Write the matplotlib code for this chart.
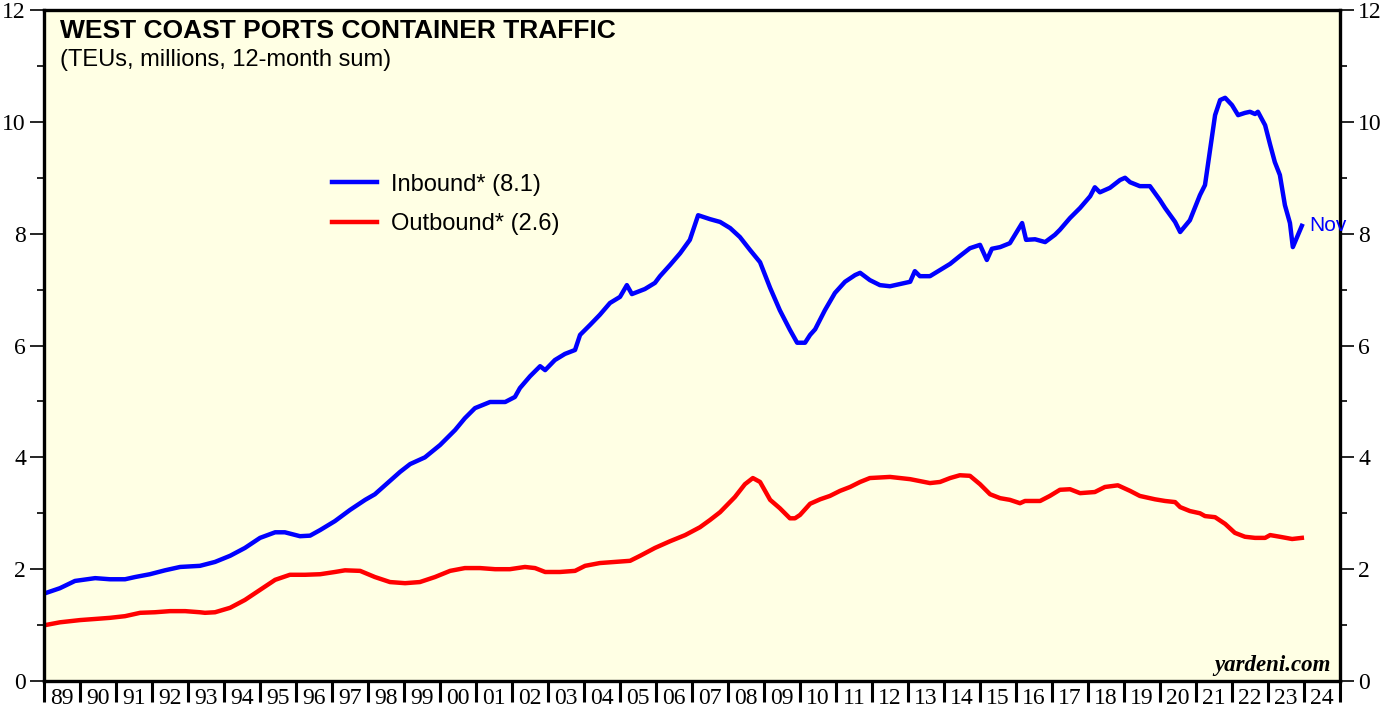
import numpy as np
import matplotlib.pyplot as plt
from matplotlib.ticker import FixedLocator, NullFormatter

# inbound (decimal year, TEU millions)
inbound_t = [1989.03, 1989.44, 1989.86, 1990.42, 1990.83, 1991.25, 1991.53, 1991.94, 1992.36, 1992.78,
             1993.33, 1993.75, 1994.17, 1994.58, 1995.0, 1995.42, 1995.69, 1996.11, 1996.39, 1996.67,
             1997.08, 1997.5, 1997.92, 1998.19, 1998.47, 1998.89, 1999.17, 1999.58, 2000.0, 2000.42,
             2000.69, 2000.97, 2001.39, 2001.81, 2002.08, 2002.22, 2002.5, 2002.78, 2002.92, 2003.19,
             2003.47, 2003.75, 2003.89, 2004.17, 2004.44, 2004.72, 2005.0, 2005.19, 2005.33, 2005.69,
             2005.97, 2006.11, 2006.39, 2006.67, 2006.94, 2007.17, 2007.5, 2007.78, 2008.06, 2008.33,
             2008.61, 2008.89, 2009.17, 2009.44, 2009.72, 2009.92, 2010.14, 2010.28, 2010.42, 2010.69,
             2010.97, 2011.25, 2011.53, 2011.67, 2011.94, 2012.22, 2012.5, 2012.78, 2013.06, 2013.19,
             2013.33, 2013.61, 2013.89, 2014.17, 2014.44, 2014.72, 2015.0, 2015.19, 2015.33, 2015.56,
             2015.83, 2016.17, 2016.28, 2016.53, 2016.81, 2017.08, 2017.22, 2017.5, 2017.78, 2018.06,
             2018.19, 2018.33, 2018.61, 2018.89, 2019.03, 2019.17, 2019.44, 2019.72, 2020.0, 2020.14,
             2020.42, 2020.56, 2020.83, 2021.11, 2021.25, 2021.39, 2021.53, 2021.67, 2021.81, 2022.0,
             2022.17, 2022.36, 2022.5, 2022.64, 2022.72, 2022.92, 2023.06, 2023.19, 2023.33, 2023.47,
             2023.61, 2023.69, 2023.94]
inbound_v = [1.57, 1.66, 1.79, 1.84, 1.82, 1.82, 1.86, 1.91, 1.98, 2.04,
             2.06, 2.13, 2.24, 2.38, 2.56, 2.66, 2.66, 2.59, 2.60, 2.70,
             2.86, 3.06, 3.24, 3.34, 3.50, 3.74, 3.88, 4.00, 4.22, 4.49,
             4.70, 4.88, 4.99, 4.99, 5.08, 5.24, 5.45, 5.63, 5.56, 5.74,
             5.85, 5.92, 6.19, 6.37, 6.55, 6.76, 6.87, 7.08, 6.92, 7.01,
             7.12, 7.24, 7.44, 7.65, 7.89, 8.33, 8.26, 8.21, 8.10, 7.94,
             7.71, 7.49, 7.03, 6.63, 6.28, 6.05, 6.05, 6.19, 6.29, 6.63,
             6.94, 7.14, 7.26, 7.30, 7.17, 7.08, 7.06, 7.10, 7.14, 7.33,
             7.24, 7.24, 7.35, 7.46, 7.60, 7.74, 7.80, 7.53, 7.73, 7.76,
             7.83, 8.19, 7.89, 7.90, 7.85, 7.98, 8.07, 8.28, 8.46, 8.67,
             8.83, 8.74, 8.82, 8.96, 9.00, 8.92, 8.85, 8.85, 8.60, 8.46,
             8.21, 8.03, 8.24, 8.69, 8.87, 9.50, 10.12, 10.39, 10.43, 10.30,
             10.12, 10.16, 10.18, 10.14, 10.18, 9.94, 9.59, 9.28, 9.05, 8.51,
             8.19, 7.76, 8.14]

outbound_t = [1989.03, 1989.44, 1990.0, 1990.42, 1990.83, 1991.25, 1991.67, 1992.08, 1992.5, 1992.92,
              1993.33, 1993.47, 1993.75, 1994.17, 1994.58, 1995.0, 1995.42, 1995.83, 1996.25, 1996.67,
              1997.08, 1997.36, 1997.78, 1998.19, 1998.61, 1999.03, 1999.44, 1999.86, 2000.28, 2000.69,
              2001.11, 2001.53, 2001.94, 2002.36, 2002.64, 2002.92, 2003.33, 2003.75, 2004.03, 2004.44,
              2004.86, 2005.28, 2005.56, 2005.97, 2006.39, 2006.81, 2007.22, 2007.5, 2007.78, 2008.19,
              2008.47, 2008.69, 2008.89, 2009.17, 2009.44, 2009.72, 2009.86, 2010.0, 2010.28, 2010.56,
              2010.83, 2011.11, 2011.39, 2011.67, 2011.94, 2012.5, 2013.06, 2013.61, 2013.89, 2014.17,
              2014.44, 2014.72, 2015.0, 2015.28, 2015.56, 2015.83, 2016.11, 2016.25, 2016.67, 2016.94,
              2017.22, 2017.5, 2017.78, 2018.19, 2018.47, 2018.83, 2019.17, 2019.44, 2019.86, 2020.14,
              2020.42, 2020.56, 2020.83, 2021.11, 2021.25, 2021.53, 2021.81, 2022.08, 2022.36, 2022.64,
              2022.92, 2023.06, 2023.33, 2023.67, 2023.94]
outbound_v = [1.00, 1.05, 1.09, 1.11, 1.13, 1.16, 1.22, 1.23, 1.25, 1.25,
              1.23, 1.22, 1.23, 1.31, 1.45, 1.63, 1.81, 1.90, 1.90, 1.91,
              1.95, 1.98, 1.97, 1.86, 1.77, 1.75, 1.77, 1.86, 1.97, 2.02,
              2.02, 2.00, 2.00, 2.04, 2.02, 1.95, 1.95, 1.97, 2.06, 2.11,
              2.13, 2.15, 2.24, 2.38, 2.50, 2.61, 2.75, 2.88, 3.02, 3.29,
              3.52, 3.63, 3.56, 3.24, 3.09, 2.91, 2.91, 2.97, 3.17, 3.25,
              3.31, 3.40, 3.47, 3.56, 3.63, 3.65, 3.61, 3.54, 3.56, 3.63,
              3.68, 3.67, 3.52, 3.34, 3.27, 3.24, 3.18, 3.22, 3.22, 3.31,
              3.42, 3.43, 3.36, 3.38, 3.47, 3.50, 3.40, 3.31, 3.25, 3.22,
              3.20, 3.11, 3.04, 3.00, 2.95, 2.93, 2.81, 2.65, 2.58, 2.56,
              2.56, 2.61, 2.58, 2.54, 2.56]

years = np.arange(1989, 2025)
year_labels = [f"{y % 100:02d}" for y in years]

fig = plt.figure(figsize=(13.85, 7.10), dpi=100)
ax = fig.add_axes([0.0318, 0.0408, 0.9357, 0.9451])
ax.set_facecolor('#ffffe4')

ax.plot(inbound_t, inbound_v, color='#0000ff', lw=3.2, solid_joinstyle='round', label='Inbound* (8.1)')
ax.plot(outbound_t, outbound_v, color='#ff0000', lw=3.2, solid_joinstyle='round', label='Outbound* (2.6)')

ax.set_xlim(1989, 2025)
ax.set_ylim(0, 12)

serif = ['Liberation Serif', 'DejaVu Serif']
sans = ['Liberation Sans', 'DejaVu Sans']

# x: ticks at year boundaries, labels mid-year
ax.xaxis.set_major_locator(FixedLocator(list(years) + [2025]))
ax.xaxis.set_major_formatter(NullFormatter())
ax.xaxis.set_minor_locator(FixedLocator(years + 0.5))
ax.set_xticklabels(year_labels, minor=True, fontfamily=serif, fontsize=17)
ax.tick_params(axis='x', which='major', direction='out', length=15, width=2.2)
ax.tick_params(axis='x', which='minor', length=0, pad=5)

# y: both sides
ax.set_yticks(np.arange(0, 13, 2))
ax.set_yticks(np.arange(1, 12, 2), minor=True)
ax.tick_params(axis='y', which='major', direction='out', length=10, width=1.2,
               left=True, right=True, labelleft=True, labelright=True, labelsize=17, pad=3)
ax.tick_params(axis='y', which='minor', direction='out', length=5, width=1.2, left=True, right=True)
for lab in ax.get_yticklabels():
    lab.set_fontfamily(serif)

for s in ax.spines.values():
    s.set_linewidth(2.4)

ax.text(0.012, 0.986, 'WEST COAST PORTS CONTAINER TRAFFIC', transform=ax.transAxes,
        fontfamily=sans, fontsize=19, fontweight='bold', va='top')
ax.text(0.012, 0.942, '(TEUs, millions, 12-month sum)', transform=ax.transAxes,
        fontfamily=sans, fontsize=17, va='top')

leg = ax.legend(loc='upper left', bbox_to_anchor=(0.2222, 0.756), frameon=False,
                prop={'family': sans, 'size': 17}, handlelength=1.9, handletextpad=0.6,
                labelspacing=0.75, borderpad=0, borderaxespad=0)

ax.annotate('Nov', xy=(inbound_t[-1], inbound_v[-1]), xytext=(5, 0), textcoords='offset points',
            color='#0000ff', fontfamily=sans, fontsize=15, va='center')

ax.text(0.993, 0.007, 'yardeni.com', transform=ax.transAxes, ha='right', va='bottom',
        fontfamily=serif, fontsize=16.5, fontweight='bold', fontstyle='italic')

fig.savefig('out.png', dpi=100, facecolor='white')
